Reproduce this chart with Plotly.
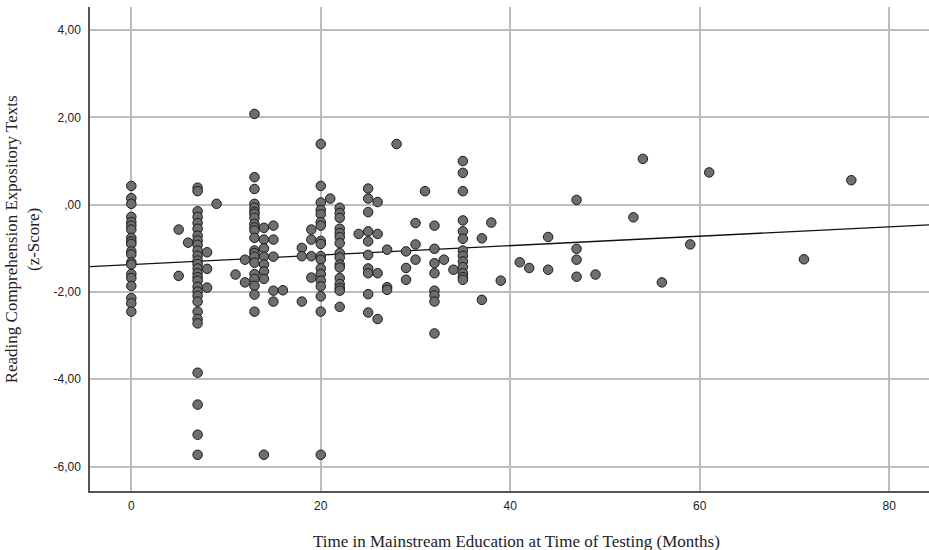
import plotly.graph_objects as go

# ---- data ----
col_0 = [0.43, 0.15, 0.02, -0.28, -0.40, -0.48, -0.57, -0.76, -0.84, -0.90, -1.07, -1.14,
         -1.32, -1.37, -1.59, -1.68, -1.86, -2.14, -2.26, -2.45]
col_5 = [-0.57, -1.63]
col_6 = [-0.87]
col_7 = [0.39, 0.31, -0.15, -0.28, -0.42, -0.55, -0.71, -0.82, -0.92, -1.05, -1.17, -1.28,
         -1.36, -1.46, -1.57, -1.66, -1.74, -1.88, -1.99, -2.09, -2.22, -2.45, -2.62, -2.72,
         -3.85, -4.58, -5.27, -5.73]
col_8 = [-1.09, -1.47, -1.90]
col_9 = [0.02]
col_11 = [-1.60]
col_12 = [-1.26, -1.78]
col_13 = [2.08, 0.63, 0.36, 0.02, -0.07, -0.16, -0.21, -0.30, -0.44, -0.52, -0.59, -0.76,
          -1.05, -1.11, -1.19, -1.33, -1.59, -1.70, -1.86, -2.06, -2.45]
col_14 = [-0.53, -0.80, -1.00, -1.19, -1.37, -1.53, -1.70, -5.73]
col_15 = [-0.48, -0.80, -1.19, -1.97, -2.22]
col_16 = [-1.96]
col_18 = [-0.99, -1.18, -2.22]
col_19 = [-0.57, -0.80, -1.18, -1.67]
col_20 = [1.39, 0.43, 0.05, -0.12, -0.22, -0.40, -0.48, -0.83, -0.90, -1.18, -1.26, -1.46,
          -1.59, -1.74, -1.87, -2.10, -2.45, -5.73]
col_21 = [0.14]
col_22 = [-0.07, -0.19, -0.30, -0.55, -0.65, -0.74, -0.88, -1.11, -1.21, -1.37, -1.44, -1.68,
          -1.82, -1.91, -1.97, -2.34]
col_24 = [-0.67]
col_25 = [0.37, 0.14, -0.17, -0.61, -0.84, -1.15, -1.46, -1.57, -2.05, -2.47]
col_26 = [0.06, -0.67, -1.57, -2.62]
col_27 = [-1.03, -1.89, -1.95]
col_28 = [1.39]
col_29 = [-1.07, -1.45, -1.72]
col_30 = [-0.42, -0.91, -1.26]
col_31 = [0.31]
col_32 = [-0.48, -1.01, -1.34, -1.57, -1.97, -2.08, -2.22, -2.95]
col_33 = [-1.26]
col_34 = [-1.49]
col_35 = [1.00, 0.73, 0.31, -0.36, -0.61, -0.78, -1.05, -1.17, -1.30, -1.43, -1.57, -1.66, -1.72]
col_37 = [-0.77, -2.18]
col_38 = [-0.41]
col_39 = [-1.74]
col_41 = [-1.32]
col_42 = [-1.45]
col_44 = [-0.74, -1.49]
col_47 = [0.11, -1.01, -1.26, -1.65]
col_49 = [-1.60]
col_53 = [-0.29]
col_54 = [1.05]
col_56 = [-1.78]
col_59 = [-0.91]
col_61 = [0.74]
col_71 = [-1.25]
col_76 = [0.56]

months_columns = {
    0: col_0, 5: col_5, 6: col_6, 7: col_7, 8: col_8, 9: col_9, 11: col_11, 12: col_12,
    13: col_13, 14: col_14, 15: col_15, 16: col_16, 18: col_18, 19: col_19, 20: col_20,
    21: col_21, 22: col_22, 24: col_24, 25: col_25, 26: col_26, 27: col_27, 28: col_28,
    29: col_29, 30: col_30, 31: col_31, 32: col_32, 33: col_33, 34: col_34, 35: col_35,
    37: col_37, 38: col_38, 39: col_39, 41: col_41, 42: col_42, 44: col_44, 47: col_47,
    49: col_49, 53: col_53, 54: col_54, 56: col_56, 59: col_59, 61: col_61, 71: col_71,
    76: col_76,
}

# linear fit line
fit_intercept = -1.37
fit_slope = 0.0108

x_ticks = [0, 20, 40, 60, 80]
y_ticks = [4, 2, 0, -2, -4, -6]
y_ticktext = ["4,00", "2,00", ",00", "-2,00", "-4,00", "-6,00"]

x_range = [-4.36, 84.2]
y_range = [-6.56, 4.53]

# ---- build ----
xs, ys = [], []
for m, vals in months_columns.items():
    xs.extend([m] * len(vals))
    ys.extend(vals)

fig = go.Figure()
fig.add_trace(go.Scatter(
    x=x_range,
    y=[fit_intercept + fit_slope * v for v in x_range],
    mode="lines",
    line=dict(color="#111111", width=1.3),
    hoverinfo="skip",
    showlegend=False,
))
fig.add_trace(go.Scatter(
    x=xs, y=ys, mode="markers",
    marker=dict(size=9.5, color="#6e6e6e", line=dict(color="#1a1a1a", width=1)),
    showlegend=False,
))

fig.update_layout(
    width=929, height=550,
    margin=dict(l=90, r=0, t=7, b=59),
    paper_bgcolor="white", plot_bgcolor="white",
    font=dict(family="Liberation Sans, Arial, sans-serif", size=12, color="#222222"),
    annotations=[
        dict(text="Reading Comprehension Expository Texts<br>(z-Score)",
             xref="paper", yref="paper", x=-0.081, y=0.52, xanchor="center", yanchor="middle",
             textangle=-90, showarrow=False,
             font=dict(family="Liberation Serif, Times New Roman, serif", size=17, color="#222222")),
        dict(text="Time in Mainstream Education at Time of Testing (Months)",
             xref="paper", yref="paper", x=0.508, y=-0.104, xanchor="center", yanchor="middle",
             showarrow=False,
             font=dict(family="Liberation Serif, Times New Roman, serif", size=17, color="#222222")),
    ],
)
fig.update_xaxes(
    range=x_range, tickvals=x_ticks, showgrid=True, gridcolor="#bdbdbd", gridwidth=1.5,
    zeroline=False, showline=True, linecolor="#555555", linewidth=1.5,
    ticks="outside", ticklen=3, tickcolor="rgba(0,0,0,0)",
)
fig.update_yaxes(
    range=y_range, tickvals=y_ticks, ticktext=y_ticktext, showgrid=True, gridcolor="#bdbdbd",
    gridwidth=1.5, zeroline=False, showline=True, linecolor="#555555", linewidth=1.5,
    ticks="outside", ticklen=5, tickcolor="rgba(0,0,0,0)",
)

fig.write_html("out.html")
